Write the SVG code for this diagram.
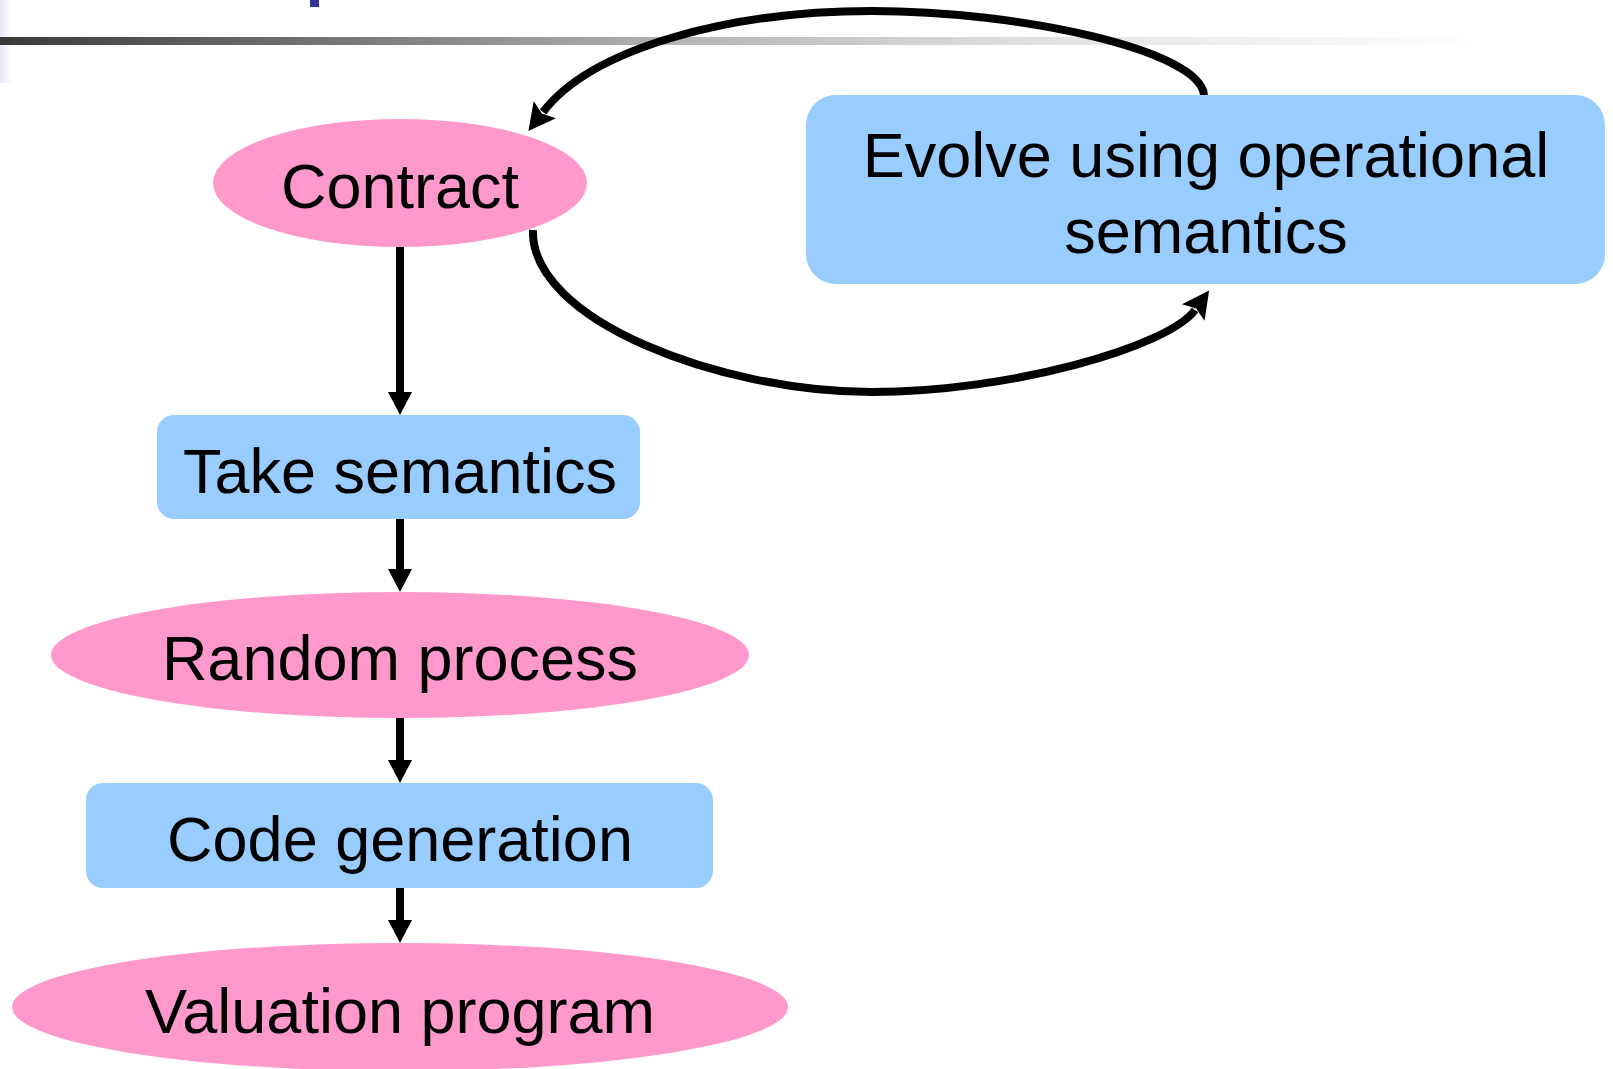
<svg xmlns="http://www.w3.org/2000/svg" width="1613" height="1069" viewBox="0 0 1613 1069">
  <style>
    .ell { fill: #FF99CC; }
    .box { fill: #99CCFF; }
    .lbl { font-family: "Liberation Sans", Arial, sans-serif; font-size: 63px; fill: #000000; text-anchor: middle; }
    .edge { fill: none; stroke: #000000; stroke-width: 8; }
  </style>
  <defs>
    <linearGradient id="bar" x1="0" y1="0" x2="1490" y2="0" gradientUnits="userSpaceOnUse">
      <stop offset="0" stop-color="#3a3a3a"/>
      <stop offset="0.47" stop-color="#b8b8b8"/>
      <stop offset="0.73" stop-color="#e6e6e6"/>
      <stop offset="1" stop-color="#ffffff"/>
    </linearGradient>
    <linearGradient id="side" x1="0" y1="0" x2="1" y2="0">
      <stop offset="0" stop-color="#e6e6f7"/>
      <stop offset="1" stop-color="#ffffff"/>
    </linearGradient>
    <marker id="arrow" viewBox="0 0 24 24" refX="0" refY="12" markerWidth="24" markerHeight="24" markerUnits="userSpaceOnUse" orient="auto">
      <path d="M0,0 L23,12 L0,24 z" fill="#000000"/>
    </marker>
    <marker id="arrow-curve" viewBox="0 0 28 28" refX="3" refY="14" markerWidth="28" markerHeight="28" markerUnits="userSpaceOnUse" orient="auto">
      <path d="M0,0 L27,14 L0,28 L5,14 z" fill="#000000"/>
    </marker>
  </defs>

  <rect x="0" y="0" width="1613" height="1069" fill="#ffffff"/>
  <rect x="0" y="0" width="12" height="83" fill="url(#side)"/>
  <rect x="0" y="37" width="1500" height="8" fill="url(#bar)"/>
  <rect x="310" y="0" width="9" height="7" fill="#333399"/>

  <g id="connectors">
    <path class="edge" d="M400,247 L400,392" marker-end="url(#arrow)"/>
    <path class="edge" d="M400,519 L400,569" marker-end="url(#arrow)"/>
    <path class="edge" d="M400,718 L400,760" marker-end="url(#arrow)"/>
    <path class="edge" d="M400,888 L400,920" marker-end="url(#arrow)"/>
    <path class="edge" d="M1204,95 C1200,50 1020,11 872,11 C730,11 592,48 543,112" marker-end="url(#arrow-curve)"/>
    <path class="edge" d="M533,230 C530,320 720,392 872,392 C1010,392 1168,347 1195,310" marker-end="url(#arrow-curve)"/>
  </g>

  <g id="contract">
    <ellipse class="ell" cx="400" cy="183" rx="187" ry="64"/>
    <text class="lbl" x="400" y="208">Contract</text>
  </g>
  <g id="evolve">
    <rect class="box" x="806" y="95" width="799" height="189" rx="30" ry="30"/>
    <text class="lbl" x="1206" y="177">Evolve using operational</text>
    <text class="lbl" x="1206" y="253">semantics</text>
  </g>
  <g id="take-semantics">
    <rect class="box" x="157" y="415" width="483" height="104" rx="17" ry="17"/>
    <text class="lbl" x="400" y="493">Take semantics</text>
  </g>
  <g id="random-process">
    <ellipse class="ell" cx="400" cy="655" rx="349" ry="63"/>
    <text class="lbl" x="400" y="680">Random process</text>
  </g>
  <g id="code-generation">
    <rect class="box" x="86" y="783" width="627" height="105" rx="17" ry="17"/>
    <text class="lbl" x="400" y="861">Code generation</text>
  </g>
  <g id="valuation-program">
    <ellipse class="ell" cx="400" cy="1007" rx="388" ry="64"/>
    <text class="lbl" x="400" y="1033">Valuation program</text>
  </g>
</svg>
